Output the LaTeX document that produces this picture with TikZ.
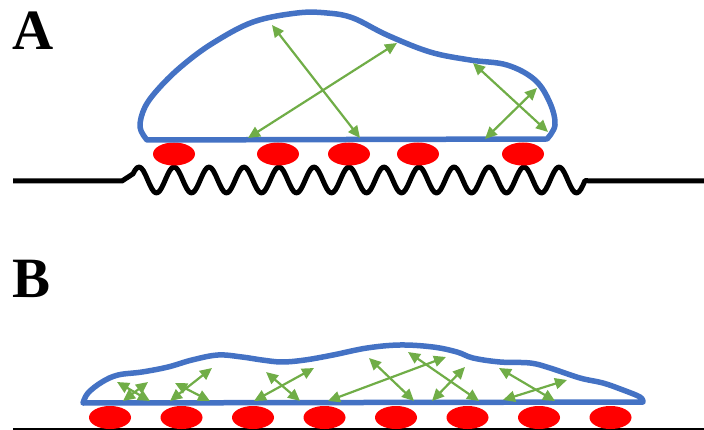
\documentclass[tikz,border=0pt]{standalone}
\usepackage{fontspec}
\setmainfont{Liberation Serif}
\usetikzlibrary{arrows.meta, shapes.geometric}
\definecolor{film}{HTML}{4472C4}
\definecolor{bond}{HTML}{70AD47}
\definecolor{pad}{HTML}{FF0000}
\tikzset{
  panel/.style   = {anchor=base west, inner sep=0pt,
                    font=\fontsize{57}{57}\selectfont\bfseries},
  blob/.style    = {draw=film, line width=5.5pt, line join=round, line cap=round},
  contact/.style = {ellipse, fill=pad, draw=none, inner sep=0pt,
                    minimum width=42pt, minimum height=23pt},
  wire/.style    = {line width=5pt, line join=round, black},
  bounce/.style  = {{Triangle[length=12pt,width=11pt]}-{Triangle[length=12pt,width=11pt]},
                    line width=2.2pt, draw=bond, fill=bond},
}

\begin{document}
\begin{tikzpicture}[x=1pt, y=-1pt]
  \useasboundingbox (0,0) rectangle (704,430);

  % Panel A: droplet on a rough (wavy) substrate, period 35
  \node[panel] (labA) at (12,50) {A};
  \draw[wire] (13,181) -- (122,181)
    -- plot[domain=133:585, samples=220] (\x, {180 - 13*cos((\x-139)*10.2857)})
    -- (592,181) -- (704,181);
  \foreach \n/\x in {1/174, 2/278, 3/349, 4/418, 5/523}
    \node[contact] (a\n) at (\x,154) {};
  \draw[blob] (147,140)
    plot[smooth, tension=0.6] coordinates {(147,140) (140,127) (145,107) (160,87) (183,65)
      (213,43) (253,22) (297,13) (327,13) (353,18) (387,35) (430,52) (470,60)
      (507,65) (535,80) (550,103) (555,125) (547,139)} -- cycle;
  \foreach \s/\t in {{272,25}/{360,138}, {248,138}/{397,43},
                     {473,63}/{548,132}, {485,139}/{537,88}}
    \draw[bounce] (\s) -- (\t);

  % Panel B: flat film on a smooth substrate
  \node[panel] (labB) at (12,298) {B};
  \draw[line width=1.5pt] (13,429) -- (704,429);
  \foreach \n in {0,...,7}
    \node[contact] (b\n) at ({110 + 71.5*\n},417.5) {};
  \draw[blob] (83,403)
    plot[smooth, tension=0.6] coordinates {(83,403) (88,393) (102,382) (118,375)
      (142,372) (168,367) (192,360) (218,355) (242,357) (262,360) (282,362)
      (305,360) (333,355) (367,348) (400,345) (433,347) (457,352) (473,358)
      (500,362) (530,363) (550,368) (580,378) (603,383) (623,390) (640,397)
      (643,402)} -- cycle;
  \foreach \s/\t in {{117,382}/{150,401}, {123,401}/{148,382},
                     {175,383}/{210,401}, {170,401}/{212,368},
                     {254,401}/{314,368}, {266,372}/{300,401},
                     {328,401}/{446,357}, {369,358}/{414,401},
                     {408,352}/{479,401}, {432,401}/{465,367},
                     {499,368}/{555,401}, {503,400}/{567,380}}
    \draw[bounce] (\s) -- (\t);
\end{tikzpicture}
\end{document}
